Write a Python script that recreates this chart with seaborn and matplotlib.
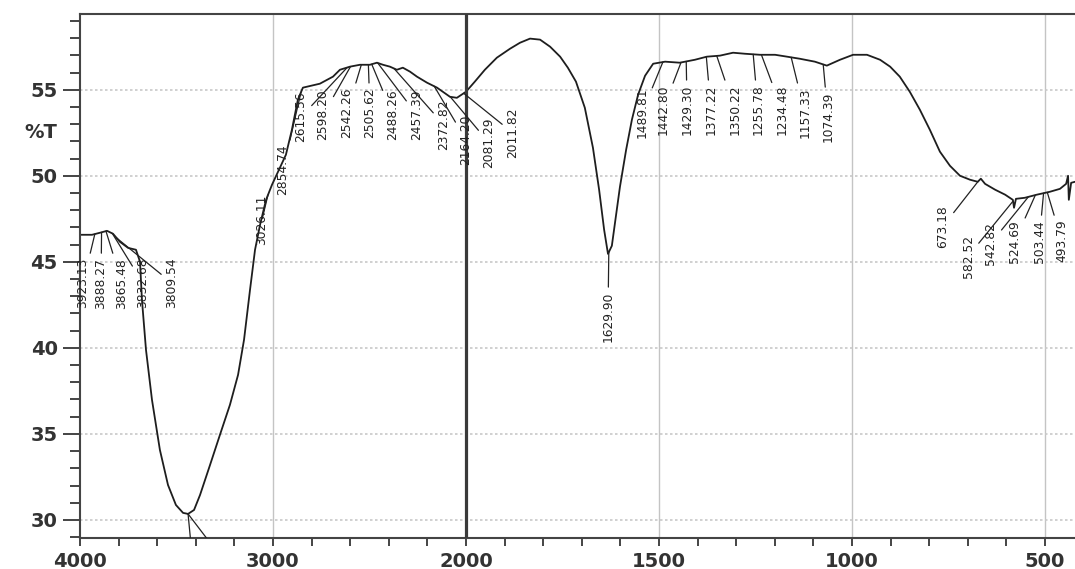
import numpy as np
import pandas as pd
import matplotlib
matplotlib.use("Agg")
import matplotlib.pyplot as plt
import seaborn as sns
from matplotlib.ticker import FixedLocator, MultipleLocator

# ---------------- data ----------------
wavenumber = [
    4000, 3938, 3896, 3860, 3829, 3793, 3751, 3710, 3689, 3679, 3658, 3627, 3586,
    3544, 3503, 3466, 3440, 3409, 3378, 3326, 3275, 3223, 3181, 3150, 3119, 3093,
    3067, 3036, 3005, 2964, 2933, 2902, 2871, 2845, 2757, 2689, 2653, 2601, 2549,
    2498, 2461, 2430, 2394, 2358, 2327, 2290, 2254, 2202, 2150, 2083, 2047, 2000,
    1977, 1951, 1920, 1886, 1860, 1834, 1808, 1782, 1756, 1736, 1715, 1692, 1671,
    1655, 1642, 1632, 1622, 1611, 1601, 1585, 1570, 1554, 1536, 1515, 1484, 1446,
    1407, 1376, 1342, 1308, 1277, 1238, 1199, 1168, 1135, 1096, 1065, 1031, 997,
    961, 927, 901, 876, 850, 824, 798, 772, 746, 720, 694, 674, 666, 655, 629,
    603, 583, 580, 575, 552, 521, 487, 461, 445, 440, 438, 432, 422,
]
transmittance = [
    46.57, 46.57, 46.69, 46.80, 46.63, 46.16, 45.81, 45.70, 45.00, 42.79, 39.88,
    36.98, 34.07, 32.03, 30.87, 30.41, 30.35, 30.58, 31.45, 33.20, 34.94, 36.69,
    38.43, 40.47, 43.37, 45.70, 47.15, 48.60, 49.48, 50.47, 51.22, 52.67, 54.42,
    55.12, 55.35, 55.76, 56.16, 56.34, 56.45, 56.45, 56.57, 56.45, 56.34, 56.16,
    56.28, 56.05, 55.76, 55.41, 55.12, 54.59, 54.53, 54.88,
    55.47, 56.16, 56.86, 57.38, 57.73, 57.97, 57.91, 57.50, 56.92, 56.28, 55.47,
    53.95, 51.63, 49.19, 46.86, 45.46, 45.93, 47.73, 49.36, 51.51, 53.26, 54.71,
    55.81, 56.51, 56.63, 56.57, 56.74, 56.92, 56.98, 57.15, 57.09, 57.03, 57.03,
    56.92, 56.80, 56.63, 56.40, 56.74, 57.03, 57.03, 56.74, 56.34, 55.76, 54.88,
    53.84, 52.67, 51.40, 50.58, 50.00, 49.77, 49.65, 49.83, 49.53, 49.19, 48.90,
    48.60, 48.14, 48.66, 48.72, 48.90, 49.07, 49.24, 49.53, 50.00, 48.60, 49.59,
    49.65,
]
peak_wavenumbers = [
    3923.13, 3888.27, 3865.48, 3832.68, 3809.54,
    3026.11, 2854.74, 2615.56, 2598.20, 2542.26, 2505.62, 2488.26, 2457.39,
    2372.82, 2164.20, 2081.29, 2011.82,
    1629.90,
    1489.81, 1442.80, 1429.30, 1377.22, 1350.22, 1255.78, 1234.48, 1157.33, 1074.39,
    673.18, 582.52, 542.82, 524.69, 503.44, 493.79,
]
peak_labels = [f"{v:.2f}" for v in peak_wavenumbers]
x_major_ticks = [4000, 3000, 2000, 1500, 1000, 500]
y_major_ticks = [30, 35, 40, 45, 50, 55]
y_axis_label = "%T"

# ---------------- layout (label anchor = top centre of the rotated text) ----------------
label_anchor_x = [
    3984, 3891, 3782, 3674, 3523,
    3057, 2948, 2855, 2741, 2617, 2497, 2378, 2254,
    2114, 2000, 1940, 1878,
    1632,
    1544, 1490, 1427, 1365, 1303, 1243, 1181, 1122, 1062,
    764, 699, 640, 578, 515, 456,
]
label_anchor_y = [
    45.23, 45.23, 45.23, 45.23, 45.23,
    48.90, 51.80, 54.88, 55.00, 55.12, 55.12, 55.00, 55.00,
    54.42, 53.55, 53.37, 53.95,
    43.26,
    55.12, 55.29, 55.29, 55.29, 55.29, 55.29, 55.29, 55.12, 54.88,
    48.31, 46.57, 47.33, 47.44, 47.44, 47.44,
]

df = pd.DataFrame({"wavenumber": wavenumber, "T": transmittance})

sns.set_style("white")
plt.rcParams["font.family"] = ["DejaVu Sans"]

fig = plt.figure(figsize=(10.75, 5.69), dpi=100)
ax = fig.add_axes([80 / 1075, 1 - 538 / 569, 1 - 80 / 1075, (538 - 14) / 569])


def fwd(x):
    x = np.asarray(x, dtype=float)
    return np.where(x >= 2000, x, 2 * x - 2000)


def inv(u):
    u = np.asarray(u, dtype=float)
    return np.where(u >= 2000, u, (u + 2000) / 2)


ax.set_xscale("function", functions=(fwd, inv))

sns.lineplot(data=df, x="wavenumber", y="T", sort=False, estimator=None,
             color="#1e1e1e", lw=1.3, ax=ax, legend=False)

ax.set_xlim(4000, 422)
ax.set_ylim(28.95, 59.4)

# grid
for v in x_major_ticks:
    if v not in (4000, 2000):
        ax.axvline(v, color="#c4c4c4", lw=1.0, zorder=0)
for v in y_major_ticks:
    ax.axhline(v, color="#c8c8c8", lw=1.2, ls=(0, (1.5, 1.5)), zorder=0)
ax.axvline(2000, color="#3a3a3a", lw=2.3, zorder=3)

# ticks
ax.xaxis.set_major_locator(FixedLocator(x_major_ticks))
ax.set_xticklabels([str(v) for v in x_major_ticks])
minor_x = [v for v in list(range(3800, 2000, -200)) + list(range(1900, 400, -100))
           if v not in x_major_ticks]
ax.xaxis.set_minor_locator(FixedLocator(minor_x))
ax.set_yticks(y_major_ticks)
ax.yaxis.set_minor_locator(MultipleLocator(1))
ax.tick_params(axis="y", which="major", length=12, width=1.4, pad=4,
               labelsize=14, labelcolor="#333333", color="#444444", left=True)
ax.tick_params(axis="y", which="minor", length=7, width=1.4, color="#444444", left=True)
ax.tick_params(axis="x", which="both", length=6, width=1.4, pad=4, bottom=True,
               labelsize=14, labelcolor="#333333", color="#444444")
for lab in ax.get_xticklabels() + ax.get_yticklabels():
    lab.set_fontweight("bold")

ax.set_xlabel("")
ax.set_ylabel("")
fig.text(57 / 1075, 1 - 132 / 569, y_axis_label, ha="right", va="center",
         fontsize=14, fontweight="bold", color="#333333")

for side in ["left", "bottom", "top"]:
    ax.spines[side].set_color("#444444")
    ax.spines[side].set_linewidth(1.5)
ax.spines["right"].set_visible(False)

# peak annotations
wn_asc = np.array(wavenumber[::-1], dtype=float)
t_asc = np.array(transmittance[::-1], dtype=float)
for pw, lab, lx, ly in zip(peak_wavenumbers, peak_labels, label_anchor_x, label_anchor_y):
    py = float(np.interp(pw, wn_asc, t_asc))
    ax.annotate(lab, xy=(pw, py), xytext=(lx, ly), textcoords="data",
                rotation=90, ha="center", va="top", fontsize=8.8, color="#222222",
                arrowprops=dict(arrowstyle="-", lw=0.9, color="#222222",
                                shrinkA=1, shrinkB=0), zorder=4)

# leaders from the main O-H minimum running below the frame (labels cut off)
min_idx = int(np.argmin(transmittance))
for lx in (3420, 3280):
    ann = ax.annotate("", xy=(wavenumber[min_idx], transmittance[min_idx]),
                      xytext=(lx, 28.0), textcoords="data", annotation_clip=False,
                      arrowprops=dict(arrowstyle="-", lw=0.9, color="#222222",
                                      shrinkA=0, shrinkB=0))
    ann.arrow_patch.set_clip_path(ax.patch)

fig.savefig("out.png", dpi=100, facecolor="white")
